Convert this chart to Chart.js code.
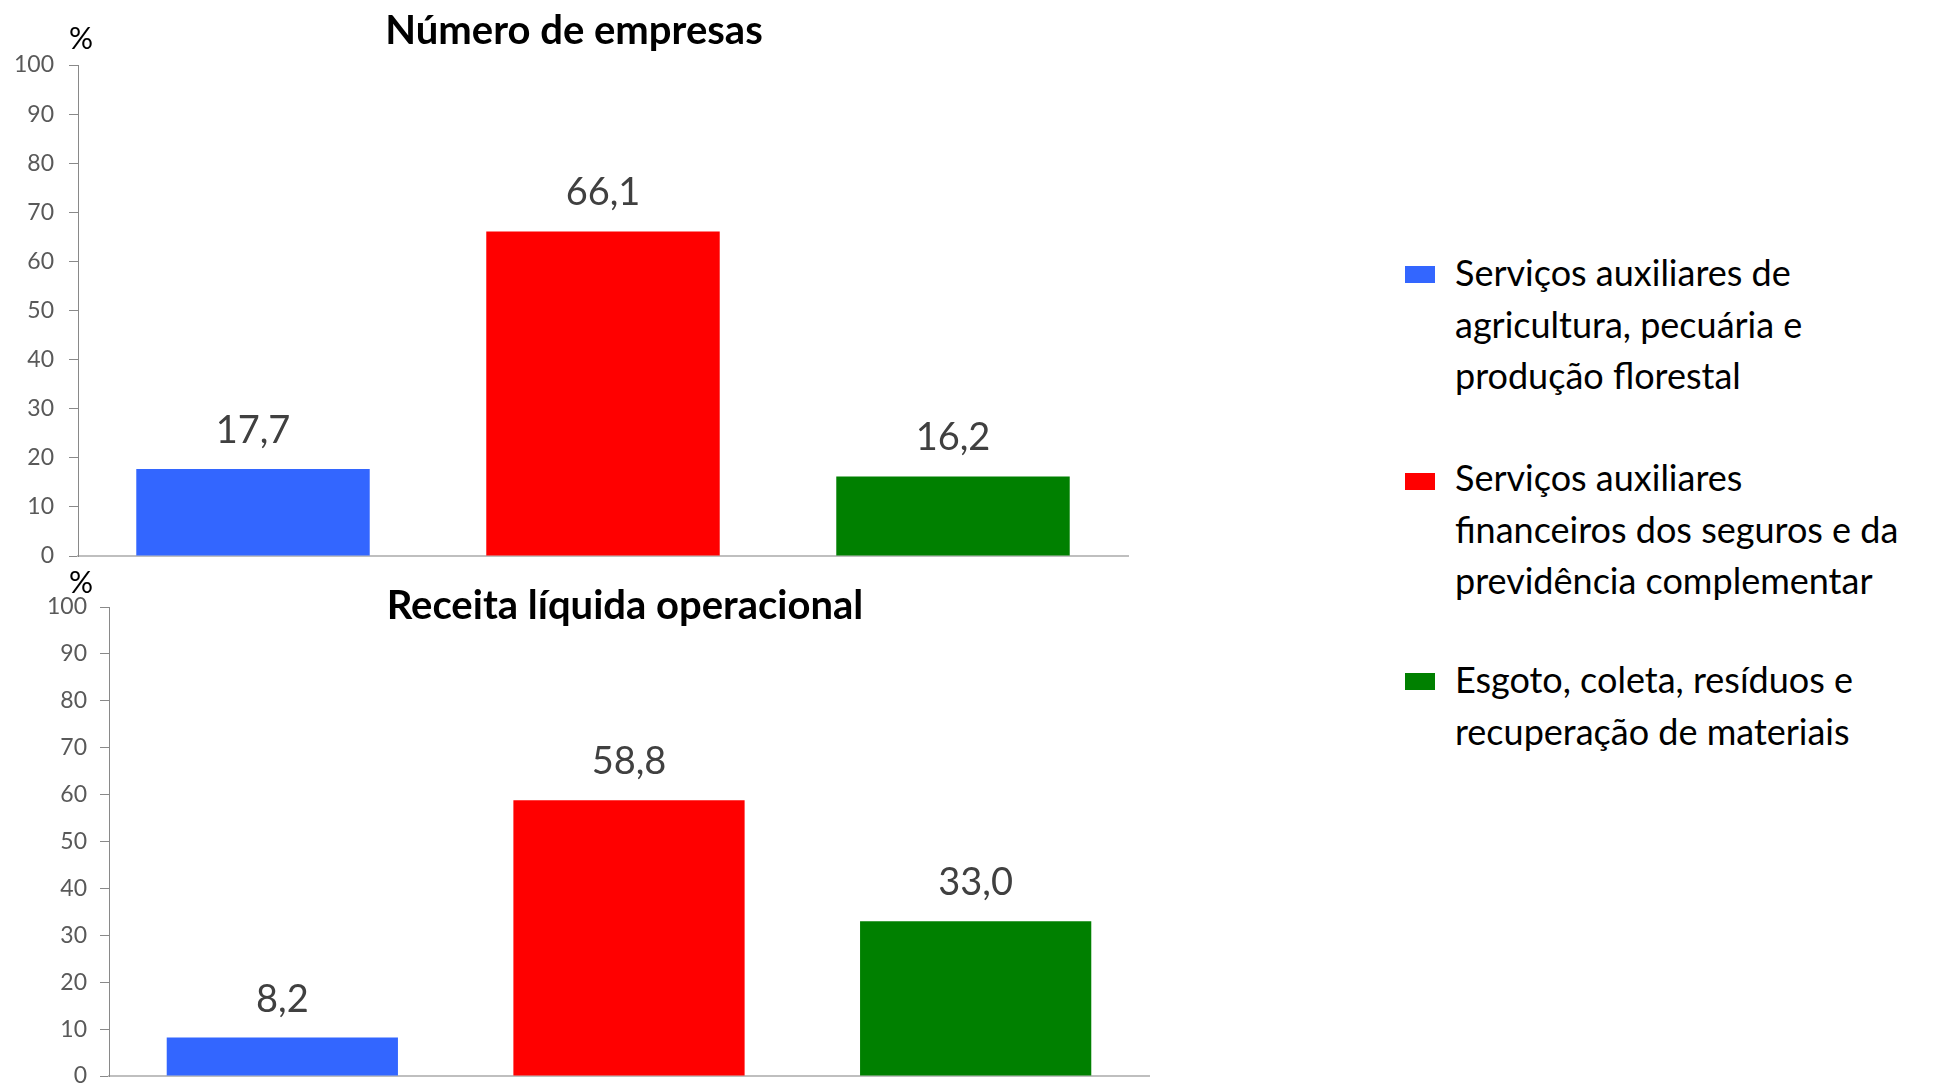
<!DOCTYPE html>
<html>
<head>
<meta charset="utf-8">
<script src="https://cdn.jsdelivr.net/npm/chart.js@4.4.1/dist/chart.umd.min.js"></script>
<style>
  html, body { margin:0; padding:0; background:#fff; width:1948px; height:1084px; overflow:hidden; }
  canvas { position:absolute; left:0; }
  #c1 { top:0; }
  #c2 { top:560px; }
  .sw { position:absolute; left:1405px; width:30px; height:17px; }
  .lt { position:absolute; left:1455px; font-family:Lato, sans-serif; font-size:36px; line-height:51.5px; color:#000; white-space:nowrap; }
</style>
</head>
<body>
<canvas id="c1" width="1148" height="578"></canvas>
<canvas id="c2" width="1250" height="524"></canvas>
<div id="legend"></div>
<script>
// ---- data ----
const legendLines = [
  ['Serviços auxiliares de', 'agricultura, pecuária e', 'produção florestal'],
  ['Serviços auxiliares', 'financeiros dos seguros e da', 'previdência complementar'],
  ['Esgoto, coleta, resíduos e', 'recuperação de materiais']
];
const categories = legendLines.map(l => l.join(' '));
const barColors = ['#3366FF', '#FF0000', '#008000'];
const empresasValues = [17.7, 66.1, 16.2];
const receitaValues = [8.2, 58.8, 33.0];
const yTicks = [0, 10, 20, 30, 40, 50, 60, 70, 80, 90, 100];
const titleEmpresas = 'Número de empresas';
const titleReceita = 'Receita líquida operacional';
const unitLabel = '%';

const fmt = v => v.toFixed(1).replace('.', ',');

const overlay = {
  id: 'overlay',
  afterDatasetsDraw(chart, args, o) {
    const ctx = chart.ctx;
    const meta = chart.getDatasetMeta(0);
    const vals = chart.data.datasets[0].data;
    ctx.save();
    ctx.font = '38px Lato';
    ctx.fillStyle = '#404040';
    ctx.textAlign = 'center';
    ctx.textBaseline = 'alphabetic';
    meta.data.forEach((bar, i) => ctx.fillText(fmt(vals[i]), bar.x, bar.y - o.gap));
    ctx.font = 'bold 40px Lato';
    ctx.fillStyle = '#000';
    ctx.textBaseline = 'middle';
    ctx.fillText(o.title, o.titleX, o.titleY);
    ctx.font = '30px Lato';
    ctx.fillText(unitLabel, o.pctX, chart.chartArea.top + o.pctDy);
    ctx.restore();
  }
};

function makeChart(id, values, cfg) {
  const cv = document.getElementById(id);
  return new Chart(cv, {
    type: 'bar',
    data: {
      labels: categories,
      datasets: [{ data: values, backgroundColor: barColors, barPercentage: 0.667, categoryPercentage: 1 }]
    },
    options: {
      responsive: false, animation: false, devicePixelRatio: 1,
      layout: { padding: { left: 0, right: cfg.padRight, top: cfg.padTop, bottom: cfg.padBottom } },
      plugins: {
        legend: { display: false }, tooltip: { enabled: false }, title: { display: false },
        overlay: { gap: cfg.gap, title: cfg.title, titleX: cfg.titleX, titleY: cfg.titleY, pctX: cfg.pctX, pctDy: cfg.pctDy }
      },
      scales: {
        x: {
          grid: { display: false }, ticks: { display: false },
          border: { color: '#bfbfbf', width: 2 },
          afterFit(s) { s.height = 0; s.paddingLeft = 0; s.paddingRight = 0; }
        },
        y: {
          min: 0, max: 100,
          afterBuildTicks(s) { s.ticks = yTicks.map(v => ({ value: v })); },
          ticks: { color: '#595959', font: { family: 'Lato', size: 23 }, padding: cfg.tickPad },
          grid: { drawOnChartArea: false, drawTicks: true, tickLength: 9, color: '#898989' },
          border: { color: '#898989', width: 1 },
          afterFit(s) { s.width = cfg.yWidth; s.paddingTop = 0; s.paddingBottom = 0; }
        }
      }
    },
    plugins: [overlay]
  });
}

function build() {
  makeChart('c1', empresasValues, {
    padRight: 20, padTop: 65, padBottom: 22, yWidth: 78, tickPad: 15, gap: 26,
    title: titleEmpresas, titleX: 574, titleY: 31, pctX: 81, pctDy: -26
  });
  makeChart('c2', receitaValues, {
    padRight: 101, padTop: 47, padBottom: 8, yWidth: 109, tickPad: 13, gap: 26,
    title: titleReceita, titleX: 625, titleY: 46, pctX: 81, pctDy: -24
  });
  const leg = document.getElementById('legend');
  const swTops = [266, 473, 673];
  const txtTops = [247, 452, 654];
  legendLines.forEach((lines, i) => {
    const sw = document.createElement('div');
    sw.className = 'sw'; sw.style.top = swTops[i] + 'px'; sw.style.background = barColors[i];
    leg.appendChild(sw);
    const t = document.createElement('div');
    t.className = 'lt'; t.style.top = txtTops[i] + 'px';
    lines.forEach((ln, j) => { if (j) t.appendChild(document.createElement('br')); t.appendChild(document.createTextNode(ln)); });
    leg.appendChild(t);
  });
}
if (document.fonts && document.fonts.load) {
  Promise.all([document.fonts.load('36px Lato'), document.fonts.load('bold 40px Lato')]).then(build, build);
} else { build(); }
</script>
</body>
</html>
